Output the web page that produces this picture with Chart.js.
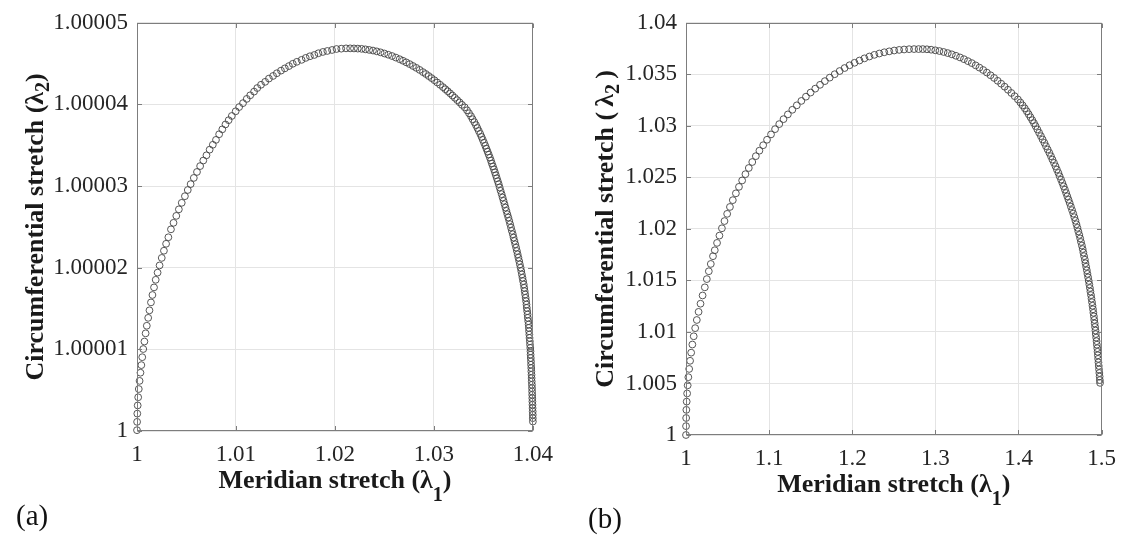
<!DOCTYPE html>
<html>
<head>
<meta charset="utf-8">
<script src="https://cdn.jsdelivr.net/npm/chart.js@4.4.0/dist/chart.umd.min.js"></script>
<style>
  html, body { margin: 0; padding: 0; background: #fff; }
  #wrap { position: relative; width: 1126px; height: 542px; overflow: hidden; }
  canvas { position: absolute; top: 0; }
</style>
</head>
<body>
<div id="wrap">
  <canvas id="chartA" width="563" height="542" style="left:0;width:563px;height:542px"></canvas>
  <canvas id="chartB" width="563" height="542" style="left:563px;width:563px;height:542px"></canvas>
</div>
<script>
// (a) meridian stretch λ1 and circumferential stretch λ2
const leftLambda1 = [
  1.00000, 1.00001, 1.00003, 1.00007, 1.00012, 1.00018, 1.00026, 1.00035, 1.00044, 1.00053,
  1.00063, 1.00075, 1.00087, 1.00099, 1.00113, 1.00126, 1.00141, 1.00156, 1.00172, 1.00189,
  1.00208, 1.00228, 1.00250, 1.00272, 1.00294, 1.00317, 1.00343, 1.00369, 1.00397, 1.00423,
  1.00452, 1.00484, 1.00513, 1.00542, 1.00574, 1.00606, 1.00638, 1.00670, 1.00702, 1.00734,
  1.00766, 1.00798, 1.00830, 1.00862, 1.00894, 1.00926, 1.00958, 1.00997, 1.01032, 1.01071,
  1.01109, 1.01144, 1.01183, 1.01215, 1.01253, 1.01295, 1.01333, 1.01375, 1.01413, 1.01455,
  1.01494, 1.01535, 1.01574, 1.01615, 1.01663, 1.01705, 1.01747, 1.01792, 1.01833, 1.01878,
  1.01923, 1.01971, 1.02016, 1.02064, 1.02112,
  1.021538, 1.021923, 1.022308, 1.022692, 1.023077, 1.023462, 1.023846, 1.024231, 1.024615, 1.025000,
  1.025385, 1.025769, 1.026154, 1.026538, 1.026875, 1.027212, 1.027548, 1.027885, 1.028221, 1.028558,
  1.028894, 1.029183, 1.029471, 1.029760, 1.030048, 1.030337, 1.030625, 1.030913, 1.031154, 1.031394,
  1.031635, 1.031875, 1.032115, 1.032356, 1.032596, 1.032837,
  1.033115, 1.033346, 1.033548, 1.033750, 1.033913, 1.034087, 1.034250, 1.034394, 1.034538, 1.034683,
  1.034817, 1.034942, 1.035067, 1.035192, 1.035308, 1.035423, 1.035538, 1.035654, 1.035760, 1.035856,
  1.035962, 1.036067, 1.036163, 1.036260, 1.036356, 1.036452, 1.036548,
  1.036644, 1.036740, 1.036846, 1.036942, 1.037038, 1.037135, 1.037231, 1.037327, 1.037423, 1.037519,
  1.037615, 1.037702, 1.037788, 1.037875, 1.037971, 1.038048, 1.038135, 1.038221, 1.038308, 1.038385,
  1.038462, 1.038538, 1.038615, 1.038683, 1.038760, 1.038827, 1.038885, 1.038952, 1.039010, 1.039077,
  1.039125, 1.039173, 1.039221, 1.039269, 1.039317, 1.039356, 1.039385, 1.039423, 1.039462, 1.039490,
  1.039529, 1.039567, 1.039596, 1.039615, 1.039644, 1.039663, 1.039692, 1.039712, 1.039740, 1.039760,
  1.039769, 1.039788, 1.039808, 1.039817, 1.039837, 1.039846, 1.039865, 1.039875, 1.039885, 1.039904,
  1.039913, 1.039923, 1.039933, 1.039942, 1.039952, 1.039962, 1.039971, 1.039981, 1.039990, 1.039990,
  1.040000
];
const leftLambda2 = [
  1.00000010, 1.00000112, 1.00000213, 1.00000313, 1.00000413, 1.00000514, 1.00000614, 1.00000714, 1.00000807, 1.00000904,
  1.00001004, 1.00001096, 1.00001196, 1.00001289, 1.00001386, 1.00001478, 1.00001575, 1.00001666, 1.00001759, 1.00001852,
  1.00001940, 1.00002028, 1.00002120, 1.00002208, 1.00002293, 1.00002373, 1.00002470, 1.00002550, 1.00002635, 1.00002715,
  1.00002795, 1.00002876, 1.00002952, 1.00003024, 1.00003100, 1.00003173, 1.00003245, 1.00003313, 1.00003377, 1.00003446,
  1.00003506, 1.00003566, 1.00003635, 1.00003695, 1.00003755, 1.00003807, 1.00003859, 1.00003916, 1.00003968, 1.00004016,
  1.00004068, 1.00004112, 1.00004157, 1.00004201, 1.00004241, 1.00004277, 1.00004317, 1.00004349, 1.00004382, 1.00004414,
  1.00004442, 1.00004470, 1.00004498, 1.00004522, 1.00004546, 1.00004570, 1.00004590, 1.00004606, 1.00004627, 1.00004643,
  1.00004655, 1.00004667, 1.00004679, 1.00004683, 1.00004687,
  1.00004687, 1.00004686, 1.00004684, 1.00004681, 1.00004675, 1.00004668, 1.00004660, 1.00004650, 1.00004638, 1.00004624,
  1.00004609, 1.00004593, 1.00004574, 1.00004554, 1.00004535, 1.00004515, 1.00004494, 1.00004471, 1.00004448, 1.00004423,
  1.00004396, 1.00004373, 1.00004348, 1.00004323, 1.00004297, 1.00004269, 1.00004241, 1.00004212, 1.00004187, 1.00004162,
  1.00004136, 1.00004109, 1.00004081, 1.00004053, 1.00004025, 1.00003995,
  1.00003964, 1.00003928, 1.00003892, 1.00003855, 1.00003819, 1.00003783, 1.00003747, 1.00003711, 1.00003675, 1.00003639,
  1.00003602, 1.00003566, 1.00003530, 1.00003494, 1.00003458, 1.00003422, 1.00003386, 1.00003349, 1.00003313, 1.00003277,
  1.00003241, 1.00003205, 1.00003169, 1.00003133, 1.00003096, 1.00003060, 1.00003024,
  1.00002983, 1.00002942, 1.00002901, 1.00002860, 1.00002819, 1.00002778, 1.00002737, 1.00002696, 1.00002655, 1.00002615,
  1.00002574, 1.00002533, 1.00002492, 1.00002451, 1.00002410, 1.00002369, 1.00002328, 1.00002287, 1.00002246, 1.00002205,
  1.00002164, 1.00002123, 1.00002082, 1.00002041, 1.00002000, 1.00001959, 1.00001918, 1.00001877, 1.00001836, 1.00001795,
  1.00001754, 1.00001713, 1.00001672, 1.00001631, 1.00001590, 1.00001549, 1.00001508, 1.00001468, 1.00001427, 1.00001386,
  1.00001345, 1.00001304, 1.00001263, 1.00001222, 1.00001181, 1.00001140, 1.00001099, 1.00001058, 1.00001017, 1.00000976,
  1.00000935, 1.00000894, 1.00000853, 1.00000812, 1.00000771, 1.00000730, 1.00000689, 1.00000648, 1.00000607, 1.00000566,
  1.00000525, 1.00000484, 1.00000443, 1.00000402, 1.00000361, 1.00000321, 1.00000280, 1.00000239, 1.00000198, 1.00000157,
  1.00000116
];

// (b)
const rightLambda1 = [
  1.00000, 1.00004, 1.00018, 1.00044, 1.00082, 1.00135, 1.00202, 1.00283, 1.00381, 1.00492,
  1.00621, 1.00765, 1.00927, 1.01104, 1.01300, 1.01513, 1.01746, 1.01995, 1.02263,
  1.02506, 1.02745, 1.02983, 1.03246, 1.03461,
  1.03735, 1.04022, 1.04320, 1.04630, 1.04952, 1.05286, 1.05632,
  1.06002, 1.06372, 1.06754, 1.07148, 1.07554, 1.07971, 1.08401, 1.08831,
  1.09284, 1.09749, 1.10227, 1.10716, 1.11217, 1.11730, 1.12255,
  1.12792, 1.13329, 1.13878, 1.14427, 1.14988, 1.15549,
  1.16122, 1.16706, 1.17291, 1.17888, 1.18485, 1.19081,
  1.19678, 1.20275, 1.20871, 1.21468, 1.22065, 1.22661, 1.23258,
  1.23855, 1.24452, 1.25048, 1.25645, 1.26242, 1.26838, 1.27435,
  1.27983, 1.28485, 1.28986, 1.29487, 1.29988, 1.30489, 1.30991, 1.31492, 1.31981, 1.32470,
  1.32959, 1.33437, 1.33914, 1.34380, 1.34845, 1.35298, 1.35752, 1.36193, 1.36635, 1.37065,
  1.37494, 1.37912, 1.38330, 1.38735, 1.39141, 1.39535, 1.39929,
  1.40227, 1.40501, 1.40764, 1.41003, 1.41229, 1.41444, 1.41659, 1.41862, 1.42053, 1.42268,
  1.42482, 1.42697, 1.42900, 1.43115, 1.43306, 1.43509, 1.43711, 1.43902, 1.44081, 1.44272,
  1.44451, 1.44618, 1.44797, 1.44952, 1.45119, 1.45275, 1.45430, 1.45585, 1.45728, 1.45871,
  1.46014, 1.46158, 1.46301, 1.46444, 1.46587, 1.46718, 1.46850, 1.46969, 1.47089, 1.47196,
  1.47315, 1.47423, 1.47518, 1.47626, 1.47721, 1.47805, 1.47888, 1.47984, 1.48055, 1.48139,
  1.48222, 1.48294, 1.48377, 1.48449, 1.48521, 1.48592, 1.48652, 1.48723, 1.48783, 1.48843,
  1.48902, 1.48962, 1.49010, 1.49069, 1.49117, 1.49165, 1.49212, 1.49260, 1.49296, 1.49344,
  1.49392, 1.49427, 1.49475, 1.49511, 1.49547, 1.49583, 1.49619, 1.49654, 1.49690, 1.49726,
  1.49761, 1.49785, 1.49809
];
const rightLambda2 = [
  1.00000, 1.00086, 1.00165, 1.00244, 1.00324, 1.00403, 1.00482, 1.00561, 1.00641, 1.00720,
  1.00799, 1.00878, 1.00958, 1.01037, 1.01116, 1.01195, 1.01274, 1.01354, 1.01433,
  1.01513, 1.01589, 1.01660, 1.01735, 1.01793,
  1.01864, 1.01935, 1.02006, 1.02076, 1.02146, 1.02213, 1.02279,
  1.02345, 1.02408, 1.02470, 1.02531, 1.02591, 1.02649, 1.02706, 1.02759,
  1.02812, 1.02865, 1.02917, 1.02968, 1.03017, 1.03065, 1.03111,
  1.03156, 1.03199, 1.03242, 1.03283, 1.03323, 1.03361,
  1.03398, 1.03434, 1.03468, 1.03501, 1.03532, 1.03561,
  1.03588, 1.03612, 1.03634, 1.03655, 1.03673, 1.03689, 1.03702,
  1.03714, 1.03723, 1.03731, 1.03737, 1.03741, 1.03744, 1.03745,
  1.03745, 1.03745, 1.03743, 1.03739, 1.03733, 1.03726, 1.03717, 1.03706, 1.03694, 1.03680,
  1.03664, 1.03647, 1.03628, 1.03609, 1.03587, 1.03565, 1.03542, 1.03517, 1.03491, 1.03465,
  1.03437, 1.03409, 1.03380, 1.03350, 1.03319, 1.03288, 1.03256,
  1.032267, 1.031981, 1.031694, 1.031408, 1.031122, 1.030835, 1.030549, 1.030263, 1.029976, 1.029652,
  1.029327, 1.029002, 1.028678, 1.028353, 1.028029, 1.027704, 1.027380, 1.027055, 1.026730, 1.026406,
  1.026081, 1.025757, 1.025432, 1.025107, 1.024783, 1.024458, 1.024134, 1.023809, 1.023484, 1.023160,
  1.022835, 1.022511, 1.022167, 1.021823, 1.021480, 1.021136, 1.020792, 1.020449, 1.020105, 1.019761,
  1.019418, 1.019074, 1.018730, 1.018387, 1.018043, 1.017699, 1.017356, 1.017012, 1.016668, 1.016325,
  1.015981, 1.015637, 1.015294, 1.014950, 1.014606, 1.014263, 1.013919, 1.013575, 1.013232, 1.012888,
  1.012544, 1.012201, 1.011857, 1.011513, 1.011169, 1.010826, 1.010482, 1.010138, 1.009795, 1.009451,
  1.009107, 1.008764, 1.008420, 1.008076, 1.007733, 1.007389, 1.007045, 1.006702, 1.006358, 1.006014,
  1.005671, 1.005327, 1.005060
];

const leftXTicks = [1, 1.01, 1.02, 1.03, 1.04];
const leftXLabels = ['1', '1.01', '1.02', '1.03', '1.04'];
const leftYTicks = [1, 1.00001, 1.00002, 1.00003, 1.00004, 1.00005];
const leftYLabels = ['1', '1.00001', '1.00002', '1.00003', '1.00004', '1.00005'];
const rightXTicks = [1, 1.1, 1.2, 1.3, 1.4, 1.5];
const rightXLabels = ['1', '1.1', '1.2', '1.3', '1.4', '1.5'];
const rightYTicks = [1, 1.005, 1.01, 1.015, 1.02, 1.025, 1.03, 1.035, 1.04];
const rightYLabels = ['1', '1.005', '1.01', '1.015', '1.02', '1.025', '1.03', '1.035', '1.04'];

const serif = '"Liberation Serif", "Times New Roman", Times, serif';
Chart.defaults.font.family = serif;

// draws a string with subscript pieces, centred on cx
function richText(ctx, parts, cx, baseY) {
  let total = 0;
  parts.forEach(p => { ctx.font = p.font; p.w = ctx.measureText(p.text).width; total += p.w; });
  let x = cx - total / 2;
  parts.forEach(p => { ctx.font = p.font; ctx.fillText(p.text, x, baseY + p.dy); x += p.w; });
}

function framePlugin(cfg) {
  return {
    id: 'frame',
    afterDraw(chart) {
      const { ctx, chartArea: a, scales } = chart;
      ctx.save();
      const L = Math.round(a.left) + 0.5, R = Math.round(a.right) - 0.5;
      const T = Math.round(a.top) + 0.5, B = Math.round(a.bottom) - 0.5;
      ctx.strokeStyle = '#7d7d7d';
      ctx.lineWidth = 1;
      ctx.strokeRect(L, T, R - L, B - T);
      ctx.beginPath();
      cfg.xTicks.forEach(v => {
        const x = Math.round(scales.x.getPixelForValue(v)) + 0.5;
        ctx.moveTo(x, B); ctx.lineTo(x, B - 4.5);
        ctx.moveTo(x, T); ctx.lineTo(x, T + 4.5);
      });
      cfg.yTicks.forEach(v => {
        const y = Math.round(scales.y.getPixelForValue(v)) + 0.5;
        ctx.moveTo(L, y); ctx.lineTo(L + 4.5, y);
        ctx.moveTo(R, y); ctx.lineTo(R - 4.5, y);
      });
      ctx.stroke();

      ctx.fillStyle = '#1a1a1a';
      ctx.textAlign = 'left';
      ctx.textBaseline = 'alphabetic';
      const main = 'bold 26px ' + serif;
      const sub = 'bold 20px ' + serif;
      richText(ctx, [
        { text: 'Meridian stretch (\u03bb', font: main, dy: 0 },
        { text: '1', font: sub, dy: 13 },
        { text: ')', font: main, dy: 0 }
      ], (a.left + a.right) / 2, a.bottom + 57);

      ctx.save();
      ctx.translate(cfg.yTitleX, (a.top + a.bottom) / 2);
      ctx.rotate(-Math.PI / 2);
      richText(ctx, [
        { text: 'Circumferential stretch (' + cfg.gap + '\u03bb', font: main, dy: 0 },
        { text: '2', font: sub, dy: 6 },
        { text: cfg.gap + ')', font: main, dy: 0 }
      ], 0, 0);
      ctx.restore();

      ctx.font = '29px ' + serif;
      ctx.fillStyle = '#111';
      ctx.fillText(cfg.tag, cfg.tagX, cfg.tagY);
      ctx.restore();
    }
  };
}

function makeChart(id, xs, ys, cfg) {
  const points = xs.map((x, i) => ({ x: x, y: ys[i] }));
  const tickFont = { family: serif, size: 23 };
  return new Chart(document.getElementById(id), {
    type: 'scatter',
    data: {
      datasets: [{
        data: points,
        pointStyle: 'circle',
        pointRadius: 3.4,
        pointHoverRadius: 3.4,
        borderWidth: 0.9,
        borderColor: '#444444',
        backgroundColor: 'rgba(0,0,0,0)',
        clip: false
      }]
    },
    options: {
      responsive: false,
      animation: false,
      events: [],
      layout: { padding: cfg.padding },
      plugins: { legend: { display: false }, tooltip: { enabled: false } },
      scales: {
        x: {
          type: 'linear',
          min: cfg.xTicks[0],
          max: cfg.xTicks[cfg.xTicks.length - 1],
          afterBuildTicks: s => { s.ticks = cfg.xTicks.map(v => ({ value: v })); },
          afterFit: s => { s.height = cfg.xAxisH; },
          grid: { color: '#e4e4e4', lineWidth: 1, drawTicks: false },
          border: { display: false },
          ticks: {
            callback: (v, i) => cfg.xLabels[i],
            font: tickFont, color: '#262626', padding: 10,
            maxRotation: 0, autoSkip: false
          }
        },
        y: {
          type: 'linear',
          min: cfg.yTicks[0],
          max: cfg.yTicks[cfg.yTicks.length - 1],
          afterBuildTicks: s => { s.ticks = cfg.yTicks.map(v => ({ value: v })); },
          afterFit: s => { s.width = cfg.yAxisW; },
          grid: { color: '#e4e4e4', lineWidth: 1, drawTicks: false },
          border: { display: false },
          ticks: {
            callback: (v, i) => cfg.yLabels[i],
            font: tickFont, color: '#262626', padding: 9,
            autoSkip: false
          }
        }
      }
    },
    plugins: [framePlugin(cfg)]
  });
}

makeChart('chartA', leftLambda1, leftLambda2, {
  xTicks: leftXTicks, xLabels: leftXLabels, yTicks: leftYTicks, yLabels: leftYLabels,
  padding: { left: 0, right: 10, top: 16, bottom: 0 },
  xAxisH: 111, yAxisW: 137, yTitleX: 43, gap: '',
  tag: '(a)', tagX: 16, tagY: 525
});

makeChart('chartB', rightLambda1, rightLambda2, {
  xTicks: rightXTicks, xLabels: rightXLabels, yTicks: rightYTicks, yLabels: rightYLabels,
  padding: { left: 0, right: 21, top: 16, bottom: 0 },
  xAxisH: 107, yAxisW: 123, yTitleX: 50, gap: '\u2009',
  tag: '(b)', tagX: 25, tagY: 528
});
</script>
</body>
</html>
